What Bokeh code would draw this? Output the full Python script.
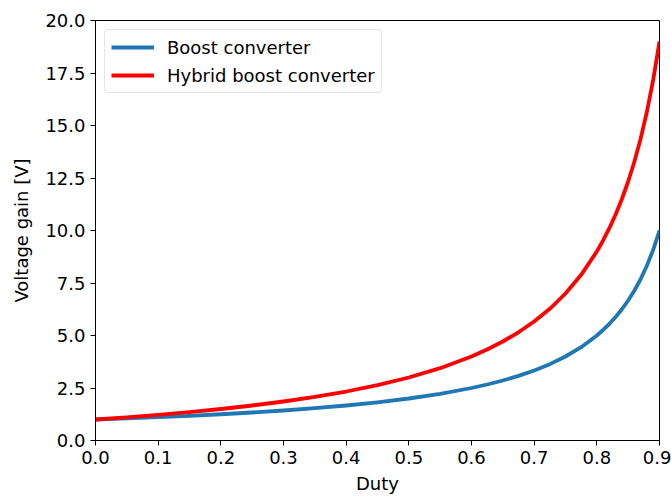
from bokeh.plotting import figure
from bokeh.embed import file_html
from bokeh.resources import INLINE
from bokeh.models import Range1d, FixedTicker, NumeralTickFormatter, Legend, LegendItem

duty = [0.0, 0.05, 0.1, 0.15, 0.2, 0.25, 0.3, 0.35, 0.4, 0.45, 0.5, 0.55, 0.6,
        0.625, 0.65, 0.675, 0.7, 0.725, 0.75, 0.775, 0.8, 0.81, 0.82, 0.83,
        0.84, 0.85, 0.86, 0.87, 0.88, 0.89, 0.9]
boost = [1.0, 1.053, 1.111, 1.176, 1.25, 1.333, 1.429, 1.538, 1.667, 1.818, 2.0,
         2.222, 2.5, 2.667, 2.857, 3.077, 3.333, 3.636, 4.0, 4.444, 5.0, 5.263,
         5.556, 5.882, 6.25, 6.667, 7.143, 7.692, 8.333, 9.091, 10.0]
hybrid = [1.0, 1.105, 1.222, 1.353, 1.5, 1.667, 1.857, 2.077, 2.333, 2.636, 3.0,
          3.444, 4.0, 4.333, 4.714, 5.154, 5.667, 6.273, 7.0, 7.889, 9.0, 9.526,
          10.111, 10.765, 11.5, 12.333, 13.286, 14.385, 15.667, 17.182, 19.0]
x_ticks = [0.0, 0.1, 0.2, 0.3, 0.4, 0.5, 0.6, 0.7, 0.8, 0.9]
y_ticks = [0.0, 2.5, 5.0, 7.5, 10.0, 12.5, 15.0, 17.5, 20.0]
series_names = ["Boost converter", "Hybrid boost converter"]

FONT = "DejaVu Sans"
FS = "18px"

p = figure(width=671, height=501, output_backend="svg", toolbar_location=None,
           x_range=Range1d(0, 0.9), y_range=Range1d(0, 20),
           frame_width=564, frame_height=420,
           min_border_left=95, min_border_top=20, min_border_right=12, min_border_bottom=61)
p.background_fill_color = "white"
p.border_fill_color = "white"
p.outline_line_color = "black"
p.outline_line_width = 1
p.xgrid.visible = False
p.ygrid.visible = False

r1 = p.line(duty, boost, line_color="#1f77b4", line_width=3.8, line_join="round")
r2 = p.line(duty, hybrid, line_color="red", line_width=3.8, line_join="round")

for ax, ticks in ((p.xaxis[0], x_ticks), (p.yaxis[0], y_ticks)):
    ax.ticker = FixedTicker(ticks=ticks)
    ax.formatter = NumeralTickFormatter(format="0.0")
    ax.major_label_text_font = FONT
    ax.major_label_text_font_size = FS
    ax.major_label_text_color = "black"
    ax.axis_label_text_font = FONT
    ax.axis_label_text_font_size = FS
    ax.axis_label_text_font_style = "normal"
    ax.axis_label_text_color = "black"
    ax.minor_tick_line_color = None
    ax.major_tick_in = 0
    ax.major_tick_out = 5
    ax.major_tick_line_color = "black"
    ax.axis_line_color = "black"
    ax.major_label_standoff = 5

p.xaxis.axis_label = "Duty"
p.yaxis.axis_label = "Voltage gain [V]"
p.xaxis.axis_label_standoff = 6
p.yaxis.axis_label_standoff = 10

legend = Legend(items=[LegendItem(label=series_names[0], renderers=[r1]),
                       LegendItem(label=series_names[1], renderers=[r2])],
                location="top_left")
legend.label_text_font = FONT
legend.label_text_font_size = FS
legend.label_text_color = "black"
legend.border_line_color = "#cccccc"
legend.border_line_width = 1
legend.border_radius = 4
legend.background_fill_alpha = 0.8
legend.glyph_width = 43
legend.glyph_height = 22
legend.label_standoff = 13
legend.spacing = 6
legend.padding = 6
legend.margin = 9
p.add_layout(legend)

open("out.html", "w").write(file_html(p, INLINE))
